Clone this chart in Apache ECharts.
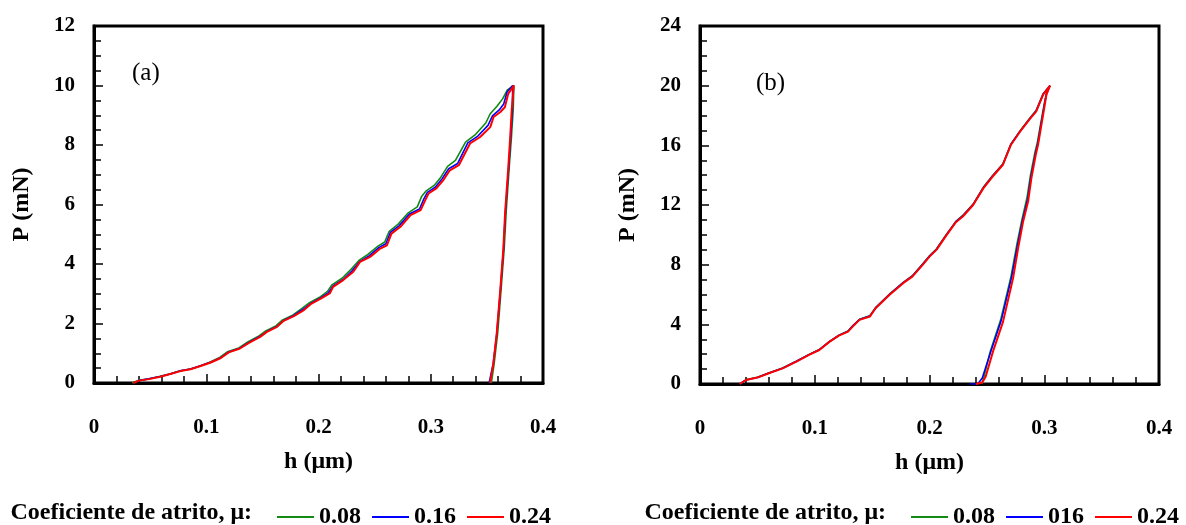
<!DOCTYPE html>
<html>
<head>
<meta charset="utf-8">
<script src="https://cdn.jsdelivr.net/npm/echarts@6/dist/echarts.min.js"></script>
<style>
  html, body { margin: 0; padding: 0; background: #fff; }
  #chart { width: 1186px; height: 525px; }
</style>
</head>
<body>
<div id="chart"></div>
<script>
// Load–unload indentation curves, [h (µm), P (mN)], loading branch then unloading branch.

// (a) peak load 10 mN
const curveA_008 = [
  [0.034,0],[0.040,0.09],[0.049,0.14],[0.058,0.22],[0.068,0.31],[0.077,0.41],[0.086,0.47],[0.095,0.58],
  [0.103,0.70],[0.112,0.86],[0.119,1.05],[0.129,1.18],[0.137,1.38],[0.147,1.58],[0.153,1.75],[0.162,1.92],
  [0.168,2.12],[0.177,2.28],[0.185,2.50],[0.192,2.70],[0.201,2.88],[0.208,3.08],[0.212,3.30],[0.221,3.52],
  [0.229,3.82],[0.236,4.12],[0.244,4.32],[0.253,4.60],[0.259,4.74],[0.263,5.10],[0.271,5.34],[0.280,5.72],
  [0.288,5.92],[0.292,6.28],[0.296,6.46],[0.303,6.64],[0.309,6.92],[0.315,7.28],[0.322,7.48],[0.331,8.10],
  [0.340,8.36],[0.349,8.74],[0.353,9.05],[0.359,9.30],[0.364,9.55],[0.368,9.84],[0.374,10.0],
  [0.3735,9.20],[0.3718,8.20],[0.3700,7.30],[0.3672,5.75],[0.3655,4.55],[0.3625,3.05],[0.3597,1.70],
  [0.3566,0.68],[0.3540,0]
];
const curveA_016 = [
  [0.035,0],[0.040,0.08],[0.049,0.14],[0.059,0.22],[0.068,0.30],[0.077,0.41],[0.086,0.47],[0.095,0.58],
  [0.104,0.70],[0.113,0.85],[0.120,1.04],[0.130,1.17],[0.138,1.36],[0.148,1.57],[0.154,1.73],[0.163,1.90],
  [0.169,2.10],[0.178,2.27],[0.186,2.47],[0.193,2.67],[0.202,2.86],[0.209,3.04],[0.213,3.26],[0.222,3.48],
  [0.230,3.77],[0.237,4.09],[0.245,4.27],[0.254,4.56],[0.260,4.68],[0.264,5.06],[0.272,5.29],[0.281,5.68],
  [0.290,5.85],[0.294,6.20],[0.297,6.41],[0.304,6.58],[0.310,6.86],[0.316,7.20],[0.324,7.38],[0.333,8.07],
  [0.342,8.30],[0.351,8.66],[0.355,8.98],[0.361,9.18],[0.365,9.38],[0.368,9.78],[0.373,10.0],
  [0.3727,9.15],[0.3710,8.14],[0.3694,7.25],[0.3664,5.68],[0.3648,4.50],[0.3618,3.00],[0.3588,1.65],
  [0.3556,0.64],[0.3520,0]
];
const curveA_024 = [
  [0.035,0],[0.040,0.08],[0.049,0.13],[0.059,0.21],[0.068,0.30],[0.077,0.40],[0.086,0.46],[0.095,0.57],
  [0.104,0.69],[0.113,0.84],[0.120,1.03],[0.130,1.16],[0.138,1.35],[0.148,1.55],[0.154,1.72],[0.163,1.89],
  [0.169,2.09],[0.178,2.25],[0.187,2.45],[0.193,2.65],[0.202,2.84],[0.210,3.01],[0.213,3.23],[0.222,3.46],
  [0.231,3.74],[0.237,4.07],[0.246,4.24],[0.255,4.52],[0.261,4.63],[0.265,5.02],[0.273,5.25],[0.282,5.64],
  [0.291,5.81],[0.295,6.14],[0.298,6.37],[0.305,6.54],[0.311,6.81],[0.317,7.15],[0.325,7.32],[0.335,8.05],
  [0.344,8.27],[0.353,8.60],[0.356,8.94],[0.362,9.11],[0.366,9.27],[0.369,9.72],[0.374,10.0],
  [0.3721,9.16],[0.3706,8.16],[0.3691,7.26],[0.3662,5.70],[0.3647,4.52],[0.3617,3.01],[0.3588,1.67],
  [0.3558,0.66],[0.3528,0]
];

// (b) peak load 20 mN
const curveB_008 = [
  [0.0350,0],[0.040,0.28],[0.050,0.45],[0.060,0.74],[0.072,1.07],[0.084,1.53],[0.095,1.98],[0.104,2.31],
  [0.113,2.86],[0.121,3.27],[0.129,3.55],[0.133,3.90],[0.139,4.34],[0.148,4.57],[0.153,5.12],[0.165,6.02],
  [0.177,6.80],[0.185,7.26],[0.194,8.05],[0.200,8.60],[0.206,9.05],[0.215,10.06],[0.223,10.90],[0.229,11.30],
  [0.238,12.06],[0.247,13.20],[0.255,13.97],[0.264,14.76],[0.271,16.10],[0.279,16.98],[0.287,17.78],
  [0.293,18.35],[0.299,19.45],[0.305,20.0],
  [0.3019,19.5],[0.3000,18.8],[0.2970,17.5],[0.2940,16.2],[0.2918,15.5],[0.2880,14.0],[0.2850,12.5],
  [0.2805,11.0],[0.2760,9.3],[0.2710,7.2],[0.2620,4.3],[0.2530,2.2],[0.2475,0.5],[0.2455,0]
];
const curveB_016 = [
  [0.0346,0],[0.040,0.27],[0.050,0.44],[0.060,0.73],[0.072,1.06],[0.084,1.52],[0.095,1.97],[0.104,2.30],
  [0.113,2.85],[0.121,3.26],[0.129,3.53],[0.133,3.88],[0.139,4.32],[0.148,4.55],[0.153,5.10],[0.165,6.00],
  [0.177,6.79],[0.185,7.23],[0.194,8.02],[0.200,8.57],[0.206,9.02],[0.215,10.03],[0.223,10.88],[0.229,11.27],
  [0.238,12.03],[0.247,13.16],[0.255,13.94],[0.264,14.73],[0.271,16.07],[0.279,16.95],[0.287,17.75],
  [0.293,18.31],[0.299,19.42],[0.305,20.0],
  [0.3020,19.45],[0.3002,18.75],[0.2973,17.45],[0.2943,16.10],[0.2922,15.40],[0.2884,13.90],[0.2855,12.35],
  [0.2810,10.95],[0.2765,9.20],[0.2715,7.15],[0.2625,4.25],[0.2535,2.20],[0.2460,0.40],[0.2420,0],[0.2350,0]
];
const curveB_024 = [
  [0.0346,0],[0.040,0.27],[0.050,0.43],[0.060,0.72],[0.072,1.05],[0.084,1.50],[0.095,1.95],[0.104,2.28],
  [0.113,2.84],[0.121,3.24],[0.129,3.51],[0.133,3.85],[0.139,4.30],[0.148,4.52],[0.153,5.08],[0.165,5.97],
  [0.177,6.76],[0.185,7.20],[0.194,7.99],[0.200,8.54],[0.206,8.99],[0.215,10.00],[0.223,10.85],[0.229,11.23],
  [0.238,12.00],[0.247,13.13],[0.255,13.91],[0.264,14.70],[0.271,16.04],[0.279,16.93],[0.287,17.72],
  [0.293,18.28],[0.299,19.40],[0.305,20.0],
  [0.3019,19.4],[0.3004,18.7],[0.2976,17.4],[0.2946,16.04],[0.2926,15.37],[0.2888,13.8],[0.2859,12.23],
  [0.2816,10.9],[0.2772,9.1],[0.2728,7.09],[0.2641,4.18],[0.2553,2.17],[0.2490,0.5],[0.2460,0.1],[0.2405,0]
];

const namesA = ['0.08', '0.16', '0.24'];
const namesB = ['0.08', '016', '0.24'];
const colors = ['#138a13', '#0000ff', '#ff0000'];
const legendTitle = 'Coeficiente de atrito, \u03bc:';

const FONT = '"Liberation Serif", "Times New Roman", serif';
const chart = echarts.init(document.getElementById('chart'), null, { renderer: 'canvas' });

const tickStyle = { color: '#000', width: 1.5 };

function xAxisFor(gridIndex) {
  return {
    type: 'value', gridIndex, min: 0, max: 0.4, interval: 0.1,
    axisLine: { show: true, onZero: false, lineStyle: { color: '#000', width: 3 } },
    axisTick: { show: true, inside: true, length: 9, lineStyle: tickStyle },
    minorTick: { show: true, splitNumber: 5, length: 7, lineStyle: tickStyle },
    splitLine: { show: false },
    axisLabel: { margin: 34, color: '#000', fontFamily: FONT, fontWeight: 'bold', fontSize: 21 },
    name: 'h (\u03bcm)', nameLocation: 'middle', nameGap: 67,
    nameTextStyle: { color: '#000', fontFamily: FONT, fontWeight: 'bold', fontSize: 24 }
  };
}
function yAxisFor(gridIndex, max, interval, minorSplit) {
  return {
    type: 'value', gridIndex, min: 0, max, interval,
    axisLine: { show: true, onZero: false, lineStyle: { color: '#000', width: 3 } },
    axisTick: { show: true, inside: true, length: 9, lineStyle: tickStyle },
    minorTick: { show: true, splitNumber: minorSplit, length: 7, lineStyle: tickStyle },
    splitLine: { show: false },
    axisLabel: { margin: 19, color: '#000', fontFamily: FONT, fontWeight: 'bold', fontSize: 21 },
    name: 'P (mN)', nameLocation: 'middle', nameGap: 60, nameRotate: 90,
    nameTextStyle: { color: '#000', fontFamily: FONT, fontWeight: 'bold', fontSize: 24 }
  };
}
function lineSeries(name, data, idx, color) {
  return {
    type: 'line', name, data, xAxisIndex: idx, yAxisIndex: idx,
    showSymbol: false, symbol: 'none', smooth: false, animation: false,
    lineStyle: { color, width: color === '#ff0000' ? 2 : 1.6 },
    itemStyle: { color }
  };
}
function legendFor(left, names) {
  return {
    data: names, left, top: 500, orient: 'horizontal',
    icon: 'rect', itemWidth: 37, itemHeight: 2, itemGap: 11, selectedMode: false,
    textStyle: { color: '#000', fontFamily: FONT, fontWeight: 'bold', fontSize: 24 }
  };
}

const option = {
  animation: false,
  backgroundColor: '#fff',
  grid: [
    { left: 94, top: 26, width: 449, height: 357, show: true, borderColor: '#000', borderWidth: 3 },
    { left: 700, top: 26, width: 459, height: 358, show: true, borderColor: '#000', borderWidth: 3 }
  ],
  xAxis: [xAxisFor(0), xAxisFor(1)],
  yAxis: [yAxisFor(0, 12, 2, 4), yAxisFor(1, 24, 4, 4)],
  legend: [legendFor(272, namesA), legendFor(906, namesB)],
  series: [
    lineSeries(namesA[0], curveA_008, 0, colors[0]),
    lineSeries(namesA[1], curveA_016, 0, colors[1]),
    lineSeries(namesA[2], curveA_024, 0, colors[2]),
    lineSeries(namesB[0], curveB_008, 1, colors[0]),
    lineSeries(namesB[1], curveB_016, 1, colors[1]),
    lineSeries(namesB[2], curveB_024, 1, colors[2])
  ],
  graphic: [
    { type: 'text', left: 132, top: 61, style: { text: '(a)', fill: '#000', font: '25px ' + FONT } },
    { type: 'text', left: 756, top: 71, style: { text: '(b)', fill: '#000', font: '25px ' + FONT } },
    { type: 'text', x: 252, y: 513, style: { text: legendTitle, fill: '#000', font: 'bold 24px ' + FONT, align: 'right', verticalAlign: 'middle' } },
    { type: 'text', x: 886, y: 513, style: { text: legendTitle, fill: '#000', font: 'bold 24px ' + FONT, align: 'right', verticalAlign: 'middle' } }
  ]
};
chart.setOption(option);
</script>
</body>
</html>
